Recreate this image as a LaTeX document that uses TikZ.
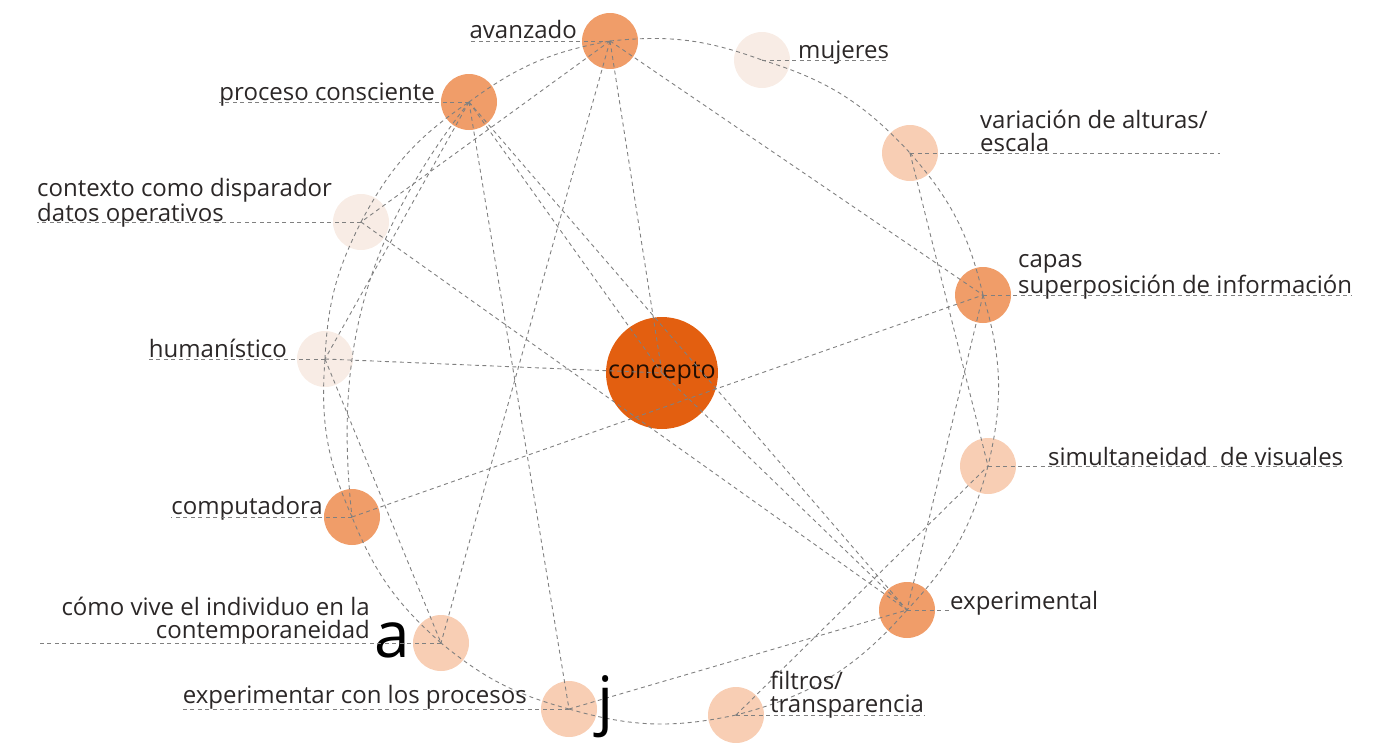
\documentclass[tikz,border=0pt]{standalone}
\usepackage{fontspec}
\setmainfont{Open Sans}
\definecolor{oscuro}{HTML}{E35F10}
\definecolor{medio}{HTML}{F09D69}
\definecolor{claro}{HTML}{F8CEB4}
\definecolor{palido}{HTML}{F8ECE5}
\definecolor{texto}{HTML}{2B2727}
\definecolor{linea}{HTML}{808080}
\tikzset{
  nodo/.style={circle,minimum size=56pt,inner sep=0pt},
  rel/.style={draw=linea,line width=0.9pt,dash pattern=on 4pt off 3.5pt},
  etq/.style={text=texto,inner sep=0pt,font=\fontsize{24}{23}\selectfont},
  letra/.style={text=black,inner sep=0pt,font=\fontsize{64}{64}\selectfont},
}

\begin{document}
\begin{tikzpicture}[x=1pt,y=-1pt]
\useasboundingbox (0,0) rectangle (1397,742);

% circulos
\node[nodo,fill=oscuro,minimum size=112pt,text=black!85!oscuro,font=\fontsize{25}{25}\selectfont] (con) at (662,373) {concepto};
\node[nodo,fill=medio] (avz) at (610,41) {};
\node[nodo,fill=palido] (muj) at (762,60) {};
\node[nodo,fill=medio] (pro) at (469,102) {};
\node[nodo,fill=claro] (var) at (910,153) {};
\node[nodo,fill=palido] (ctx) at (361,222) {};
\node[nodo,fill=medio] (cap) at (983,295) {};
\node[nodo,fill=palido] (hum) at (325,359) {};
\node[nodo,fill=claro] (sim) at (988,466) {};
\node[nodo,fill=medio] (com) at (352,517) {};
\node[nodo,fill=medio] (exp) at (907,610) {};
\node[nodo,fill=claro] (a) at (441,643) {};
\node[nodo,fill=claro] (j) at (569,709) {};
\node[nodo,fill=claro] (fil) at (736,715) {};

% anillo
\draw[rel] (avz.center) to[bend left=13] (muj.center);
\draw[rel] (muj.center) to[bend left=15] (var.center);
\draw[rel] (var.center) to[bend left=14] (cap.center);
\draw[rel] (cap.center) to[bend left=15] (sim.center);
\draw[rel] (sim.center) to[bend left=14] (exp.center);
\draw[rel] (exp.center) to[bend left=17] (fil.center);
\draw[rel] (fil.center) to[bend left=14] (j.center);
\draw[rel] (j.center) to[bend left=12] (a.center);
\draw[rel] (a.center) to[bend left=13] (com.center);
\draw[rel] (com.center) to[bend left=14] (hum.center);
\draw[rel] (hum.center) to[bend left=12] (ctx.center);
\draw[rel] (ctx.center) to[bend left=14] (pro.center);
\draw[rel] (pro.center) to[bend left=13] (avz.center);

% relaciones
\draw[rel] (pro.center) to[bend right=22] (com.center);
\draw[rel] (var.center) -- (sim.center);
\draw[rel] (avz.center) -- (ctx.center);
\draw[rel] (avz.center) -- (a.center);
\draw[rel] (avz.center) -- (con.center);
\draw[rel] (avz.center) -- (cap.center);
\draw[rel] (pro.center) -- (hum.center);
\draw[rel] (pro.center) -- (j.center);
\draw[rel] (pro.center) -- (con.center);
\draw[rel] (pro.center) -- (exp.center);
\draw[rel] (ctx.center) -- (exp.center);
\draw[rel] (hum.center) -- (con.center);
\draw[rel] (hum.center) -- (a.center);
\draw[rel] (com.center) -- (cap.center);
\draw[rel] (con.center) -- (exp.center);
\draw[rel] (cap.center) -- (exp.center);
\draw[rel] (j.center) -- (exp.center);
\draw[rel] (fil.center) -- (sim.center);

% etiquetas
\node[etq,anchor=base east] (lavz) at (577,38) {avanzado};
\node[etq,anchor=base east] (lpro) at (435,100) {proceso consciente};
\node[etq,anchor=base west] (lmuj) at (798,58) {mujeres};
\node[etq,anchor=base west,align=left] (lvar) at (980,151) {variación de alturas/\\escala};
\node[etq,anchor=base west,align=left] (lcap) at (1018,293) {capas\\superposición de información};
\node[etq,anchor=base west] (lsim) at (1048,465) {simultaneidad\ \ de visuales};
\node[etq,anchor=base west] (lexp) at (950,609) {experimental};
\node[etq,anchor=base west,align=left] (lfil) at (770,712) {filtros/\\transparencia};
\node[etq,anchor=base east] (lcom) at (323,514) {computadora};
\node[etq,anchor=base east,align=right] (lcv) at (370,638) {cómo vive el individuo en la\\contemporaneidad};
\node[etq,anchor=base east] (lexr) at (527,703) {experimentar con los procesos};
\node[etq,anchor=base west,align=left] (lctx) at (37,221) {contexto como disparador\\datos operativos};
\node[etq,anchor=base east] (lhum) at (287,357) {humanístico};
\node[letra,anchor=base west] (la) at (374,657) {a};
\node[letra,anchor=base west] (lj) at (597,722) {j};

% guias
\draw[rel] (avz.center) -- (avz.center -| lavz.west);
\draw[rel] (pro.center) -- (pro.center -| lpro.west);
\draw[rel] (muj.center) -- (muj.center -| lmuj.east);
\draw[rel] (var.center) -- ([xshift=12pt]var.center -| lvar.east);
\draw[rel] (cap.center) -- (cap.center -| lcap.east);
\draw[rel] (sim.center) -- (sim.center -| lsim.east);
\draw[rel] (exp.center) -- (exp.center -| lexp.west);
\draw[rel] (fil.center) -- (fil.center -| lfil.east);
\draw[rel] (com.center) -- (com.center -| lcom.west);
\draw[rel] (a.center) -- ([xshift=-24pt]a.center -| lcv.west);
\draw[rel] (j.center) -- (j.center -| lexr.west);
\draw[rel] (ctx.center) -- (ctx.center -| lctx.west);
\draw[rel] (hum.center) -- (hum.center -| lhum.west);
\end{tikzpicture}
\end{document}
